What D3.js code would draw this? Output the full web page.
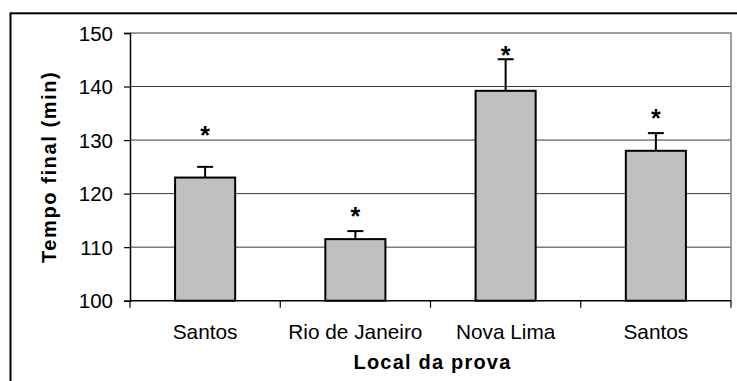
<!DOCTYPE html>
<html>
<head>
<meta charset="utf-8">
<script src="https://cdn.jsdelivr.net/npm/d3@7"></script>
<style>
  html, body { margin: 0; padding: 0; background: #fff; }
  svg { display: block; }
  text { font-family: Arial, "Liberation Sans", sans-serif; fill: #000; }
</style>
</head>
<body>
<svg id="chart" width="737" height="381"></svg>
<script>
// Race venues and final times (mean + upper SD), in minutes
const categories = ["Santos", "Rio de Janeiro", "Nova Lima", "Santos"];
const meanTime = [123.0, 111.5, 139.2, 128.0];
const sdTime = [2.0, 1.5, 5.9, 3.3];
// Level (in minutes) where each significance star is written
const starLevel = [131.8, 116.8, 146.7, 135.1];
const yTicks = [100, 110, 120, 130, 140, 150];

const svg = d3.select("#chart");
const plot = { left: 130, right: 731, top: 33, bottom: 300.7 };

// Outer frame (runs past the right and bottom edges)
svg.append("rect")
  .attr("x", 10.5).attr("y", 13.3)
  .attr("width", 740).attr("height", 400)
  .attr("fill", "none").attr("stroke", "#000").attr("stroke-width", 2);

const x = d3.scaleBand()
  .domain(d3.range(categories.length))
  .range([plot.left, plot.right])
  .padding(0);

const y = d3.scaleLinear()
  .domain([100, 150])
  .range([plot.bottom, plot.top]);

// Horizontal gridlines
svg.append("g")
  .selectAll("line")
  .data(yTicks.filter(t => t > 100 && t < 150))
  .join("line")
  .attr("x1", plot.left).attr("x2", plot.right)
  .attr("y1", d => y(d)).attr("y2", d => y(d))
  .attr("stroke", "#3a3a3a").attr("stroke-width", 1);

// Plot area border (top and right)
svg.append("path")
  .attr("d", `M${plot.left},${y(150)}H${plot.right}V${plot.bottom}`)
  .attr("fill", "none").attr("stroke", "#808080").attr("stroke-width", 1.5);

// Y axis
const yAxis = svg.append("g")
  .attr("transform", `translate(${plot.left},0)`)
  .call(d3.axisLeft(y).tickValues(yTicks).tickSize(6).tickPadding(11));
yAxis.select(".domain").attr("stroke", "#000").attr("stroke-width", 1.5);
yAxis.selectAll(".tick line").attr("stroke", "#000").attr("stroke-width", 1.2);
yAxis.selectAll(".tick text")
  .attr("font-size", 20.5).attr("letter-spacing", 0)
  .attr("font-family", "Arial, 'Liberation Sans', sans-serif")
  .attr("dy", "0.35em");

// X axis: ticks at the category boundaries, labels centred in each band
const xg = svg.append("g").attr("transform", `translate(0,${plot.bottom})`);
xg.append("line")
  .attr("x1", plot.left).attr("x2", plot.right)
  .attr("stroke", "#000").attr("stroke-width", 1.5);
const bounds = d3.range(categories.length).map(i => x(i)).concat([plot.right]);
xg.selectAll("line.tk")
  .data(bounds)
  .join("line").attr("class", "tk")
  .attr("x1", d => d).attr("x2", d => d)
  .attr("y1", 0).attr("y2", 7)
  .attr("stroke", "#000").attr("stroke-width", 1.2);
xg.selectAll("text")
  .data(categories)
  .join("text")
  .attr("x", (d, i) => x(i) + x.bandwidth() / 2)
  .attr("y", 38.5)
  .attr("text-anchor", "middle")
  .attr("font-size", 20.8)
  .text(d => d);

// Bars
const barW = x.bandwidth() * 0.4;
const cx = i => x(i) + x.bandwidth() / 2;

// Error bars (upper only)
const err = svg.append("g").attr("stroke", "#000").attr("stroke-width", 2);
meanTime.forEach((m, i) => {
  err.append("line")
    .attr("x1", cx(i)).attr("x2", cx(i))
    .attr("y1", y(m)).attr("y2", y(m + sdTime[i]));
  err.append("line")
    .attr("x1", cx(i) - 8).attr("x2", cx(i) + 8)
    .attr("y1", y(m + sdTime[i])).attr("y2", y(m + sdTime[i]));
});

svg.append("g")
  .selectAll("rect")
  .data(meanTime)
  .join("rect")
  .attr("x", (d, i) => cx(i) - barW / 2)
  .attr("y", d => y(d))
  .attr("width", barW)
  .attr("height", d => y(100) - y(d))
  .attr("fill", "#c0c0c0")
  .attr("stroke", "#000")
  .attr("stroke-width", 2);

// Significance stars
const starSize = 25;
svg.append("g")
  .selectAll("text")
  .data(starLevel)
  .join("text")
  .attr("x", (d, i) => cx(i))
  .attr("y", d => y(d) + starSize * 0.55)
  .attr("text-anchor", "middle")
  .attr("font-size", starSize)
  .attr("font-weight", "bold")
  .text("*");

// Axis titles
svg.append("text")
  .attr("transform", `translate(56,${(plot.top + plot.bottom) / 2}) rotate(-90)`)
  .attr("text-anchor", "middle")
  .attr("font-size", 20).attr("font-weight", "bold")
  .attr("letter-spacing", 1.6)
  .text("Tempo final (min)");

svg.append("text")
  .attr("x", (plot.left + plot.right) / 2 + 2)
  .attr("y", 369)
  .attr("text-anchor", "middle")
  .attr("font-size", 20).attr("font-weight", "bold")
  .attr("letter-spacing", 1.2)
  .text("Local da prova");
</script>
</body>
</html>
